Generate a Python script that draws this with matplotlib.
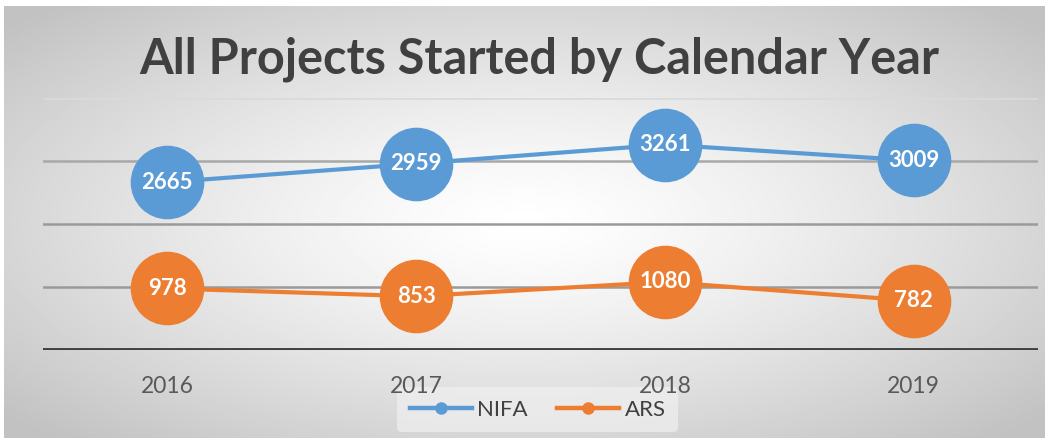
import numpy as np
import matplotlib.pyplot as plt

years = ['2016', '2017', '2018', '2019']
nifa = [2665, 2959, 3261, 3009]
ars = [978, 853, 1080, 782]

blue = '#5B9BD5'
orange = '#ED7D31'
font = 'Lato'

fig = plt.figure(figsize=(10.59, 4.42), dpi=100)
fig.patch.set_facecolor('white')

# radial gradient background like the Excel chart area
bg = fig.add_axes([0.004, 0.009, 0.983, 0.977])
bg.set_zorder(-2)
yy, xx = np.mgrid[-1:1:300j, -1:1:700j]
r = np.sqrt(xx ** 2 + yy ** 2)
r = np.clip(r / 1.35, 0, 1)
shade = 1.0 - 0.24 * r ** 1.3
bg.imshow(shade, cmap='gray', vmin=0, vmax=1, aspect='auto', extent=[0, 1, 0, 1])
bg.set_axis_off()

ax = fig.add_axes([0.0406, 0.2081, 0.9396, 0.570])
ax.patch.set_alpha(0)
x = np.arange(len(years))

for gy, gc in [(1000, '#9a9a9a'), (2000, '#9a9a9a'), (3000, '#a8a8a8'), (4000, '#dadada')]:
    ax.axhline(gy, color=gc, lw=1.8, zorder=1)
ax.axhline(0, color='#404040', lw=2.8, zorder=2)

ax.plot(x, nifa, color=blue, lw=3, marker='o', ms=52, zorder=3, label='NIFA')
ax.plot(x, ars, color=orange, lw=3, marker='o', ms=52, zorder=3, label='ARS')

for xi, v in zip(x, nifa):
    ax.text(xi, v, str(v), ha='center', va='center', color='white',
            fontsize=16, fontweight='bold', family=font, zorder=4)
for xi, v in zip(x, ars):
    ax.text(xi, v, str(v), ha='center', va='center', color='white',
            fontsize=16, fontweight='bold', family=font, zorder=4)

ax.set_xlim(-0.5, 3.5)
ax.set_ylim(0, 4000)
ax.set_yticks([])
ax.set_xticks(x)
ax.set_xticklabels(years, fontsize=16.5, color='#595959', family=font)
ax.tick_params(axis='x', length=0, pad=19)
for s in ax.spines.values():
    s.set_visible(False)

fig.text(0.509, 0.866, 'All Projects Started by Calendar Year', ha='center', va='center',
         fontsize=35, fontweight='bold', color='#404040', family=font)

h = [plt.Line2D([], [], color=blue, lw=3.2, marker='o', ms=8),
     plt.Line2D([], [], color=orange, lw=3.2, marker='o', ms=8)]
leg = fig.legend(h, ['NIFA', 'ARS'], loc='center', bbox_to_anchor=(0.5076, 0.0735),
                 ncol=2, frameon=True, handlelength=2.8,
                 columnspacing=1.3, handletextpad=0.25, borderpad=0.55,
                 prop={'family': font, 'size': 16})
leg.set_zorder(-1)
leg.get_frame().set_facecolor('#f0f0f0')
leg.get_frame().set_edgecolor('none')
leg.get_frame().set_alpha(0.7)
for t in leg.get_texts():
    t.set_color('#404040')

fig.savefig('out.png', dpi=100)
